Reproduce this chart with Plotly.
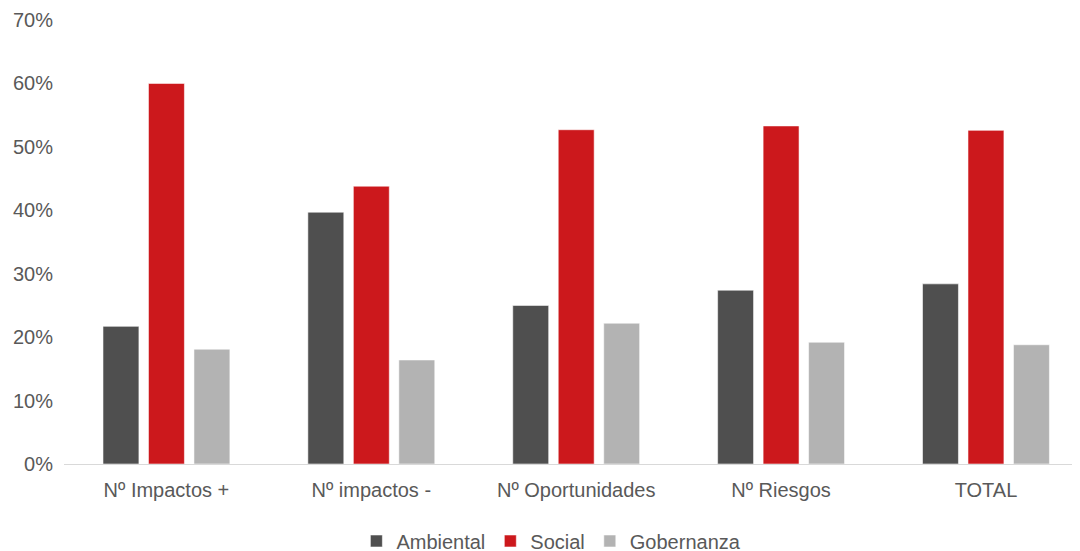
import plotly.graph_objects as go

categories = ["Nº Impactos +", "Nº impactos -", "Nº Oportunidades", "Nº Riesgos", "TOTAL"]
ambiental = [0.217, 0.397, 0.250, 0.274, 0.284]
social = [0.600, 0.438, 0.527, 0.533, 0.526]
gobernanza = [0.181, 0.164, 0.222, 0.192, 0.188]

series = [
    ("Ambiental", ambiental, "#4f4f4f"),
    ("Social", social, "#cc181c"),
    ("Gobernanza", gobernanza, "#b3b3b3"),
]

fig = go.Figure()
for name, vals, color in series:
    fig.add_trace(go.Bar(
        x=categories, y=vals, name=name,
        marker=dict(color=color, line=dict(color="rgba(255,255,255,0.55)", width=1)),
    ))

font_family = "Liberation Sans, Arial, sans-serif"
fig.update_layout(
    width=1080, height=551,
    margin=dict(l=55.5, r=8, t=12, b=95, autoexpand=False),
    paper_bgcolor="white", plot_bgcolor="white",
    barmode="group", bargap=0.334, bargroupgap=0.21,
    font=dict(family=font_family, size=20, color="#595959"),
    showlegend=True,
    legend=dict(orientation="h", x=0.4797, xanchor="center", y=-0.1734, yanchor="middle",
                font=dict(size=20, color="#595959"),
                traceorder="normal"),
    xaxis=dict(range=[-0.5, 4.459], showgrid=False, showline=True, automargin=False,
               linecolor="#d9d9d9", linewidth=1, ticks="",
               tickfont=dict(size=20, color="#595959"), ticklabelstandoff=8),
    yaxis=dict(range=[0, 0.7], dtick=0.1, tickformat=".0%", showgrid=False, automargin=False,
               zeroline=False, showline=False, ticks="",
               tickfont=dict(size=20, color="#595959"), ticklabelstandoff=10),
)

fig.write_html("out.html")
